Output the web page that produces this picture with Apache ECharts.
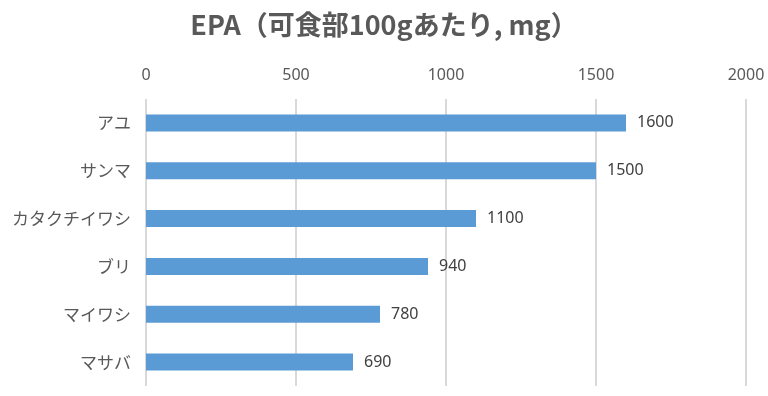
<!DOCTYPE html>
<html><head><meta charset="utf-8">
<script src="https://cdn.jsdelivr.net/npm/echarts@6/dist/echarts.min.js"></script>
<style>html,body{margin:0;padding:0;background:#fff}#c{width:768px;height:396px}</style>
</head><body><div id="c"></div>
<script>
const categories = ['アユ', 'サンマ', 'カタクチイワシ', 'ブリ', 'マイワシ', 'マサバ'];
const values = [1600, 1500, 1100, 940, 780, 690];
const titleText = 'EPA（可食部100gあたり, mg）';

const chart = echarts.init(document.getElementById('c'));
chart.setOption({
  animation: false,
  title: {
    text: titleText, left: 'center', top: 6,
    textStyle: { fontFamily: 'Noto Sans CJK JP', fontSize: 27, fontWeight: 'bold', color: '#595959' }
  },
  grid: { left: 146, right: 22, top: 99, bottom: 10 },
  xAxis: {
    type: 'value', position: 'top', min: 0, max: 2000, interval: 500,
    axisLine: { show: false }, axisTick: { show: false },
    axisLabel: { color: '#595959', fontSize: 16, fontFamily: 'Noto Sans', margin: 16, formatter: v => String(v) },
    splitLine: { lineStyle: { color: '#d9d9d9', width: 2 } }
  },
  yAxis: {
    type: 'category', data: categories, inverse: true,
    axisLine: { show: false }, axisTick: { show: false },
    axisLabel: { color: '#595959', fontSize: 17, fontFamily: 'Noto Sans CJK JP', margin: 15 }
  },
  series: [{
    type: 'bar', data: values, barWidth: 17,
    itemStyle: { color: '#5b9bd5' },
    label: { show: true, position: 'right', distance: 11, color: '#404040', fontSize: 16, fontFamily: 'Noto Sans' }
  }]
});
</script></body></html>
